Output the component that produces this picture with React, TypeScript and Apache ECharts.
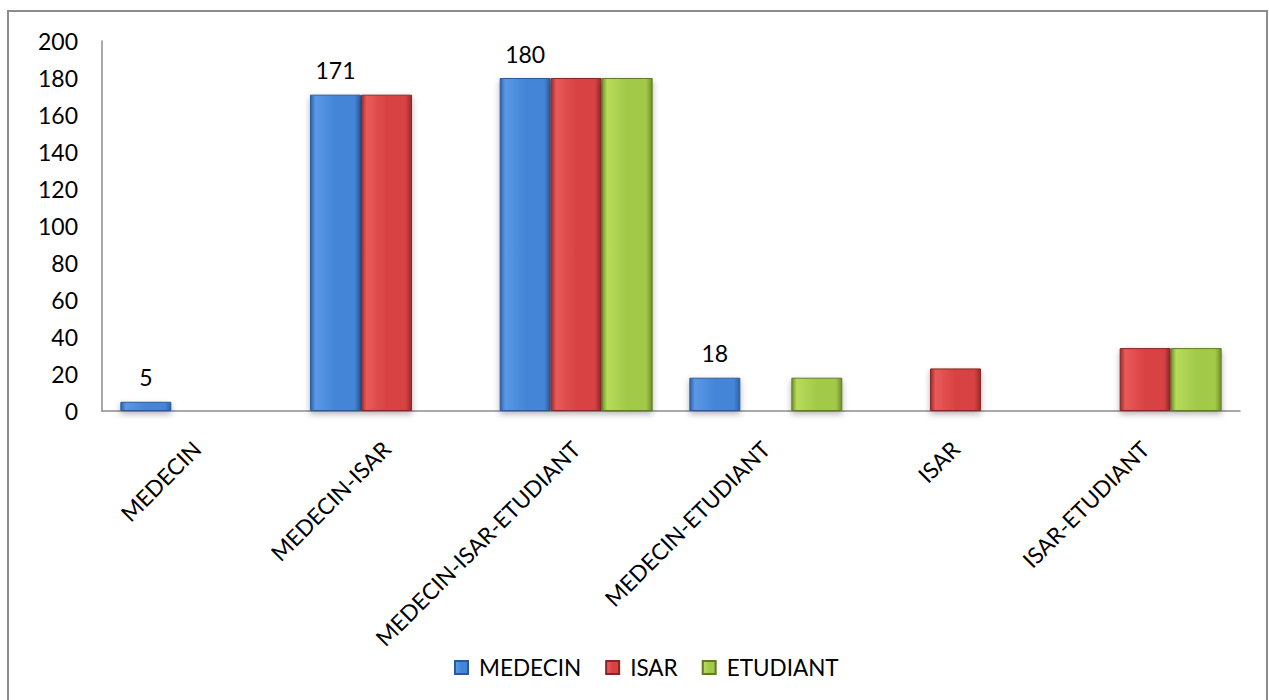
import React, { useEffect, useRef } from "react";
import * as echarts from "echarts";

const categories = [
  "MEDECIN",
  "MEDECIN-ISAR",
  "MEDECIN-ISAR-ETUDIANT",
  "MEDECIN-ETUDIANT",
  "ISAR",
  "ISAR-ETUDIANT",
];
const medecin = [5, 171, 180, 18, 0, 0];
const isar = [0, 171, 180, 0, 23, 34];
const etudiant = [0, 0, 180, 18, 0, 34];
const yTicks = { min: 0, max: 200, interval: 20 };

const FONT = "Lato, 'Open Sans', sans-serif";

function grad(dark: string, light: string, base: string) {
  return new echarts.graphic.LinearGradient(0, 0, 1, 0, [
    { offset: 0, color: dark },
    { offset: 0.1, color: light },
    { offset: 0.5, color: base },
    { offset: 0.88, color: base },
    { offset: 1, color: dark },
  ]);
}

export default function App() {
  const ref = useRef<HTMLDivElement>(null);
  useEffect(() => {
    if (!ref.current) return;
    const chart = echarts.init(ref.current, null, { renderer: "svg" });
    const barStyle = (dark: string, light: string, base: string, border: string) => ({
      color: grad(dark, light, base),
      borderColor: border,
      borderWidth: 1,
      shadowBlur: 6,
      shadowOffsetY: 3,
      shadowColor: "rgba(0,0,0,0.3)",
    });
    chart.setOption({
      animation: false,
      backgroundColor: "#fff",
      textStyle: { fontFamily: FONT },
      graphic: [
        {
          type: "rect",
          shape: { x: 8, y: 11, width: 1259, height: 720 },
          style: { fill: "none", stroke: "#8c8c8c", lineWidth: 2 },
          silent: true,
        },
      ],
      legend: {
        bottom: 16,
        left: 449,
        itemWidth: 13,
        itemHeight: 13,
        itemGap: 24,
        icon: "rect",
        textStyle: {
          fontSize: 22.5,
          color: "#000",
          fontFamily: FONT,
          padding: [0, 0, 0, 6],
        },
        data: ["MEDECIN", "ISAR", "ETUDIANT"],
      },
      grid: { left: 102, right: 29, top: 41, bottom: 289, containLabel: false },
      xAxis: {
        type: "category",
        data: categories,
        axisLine: { lineStyle: { color: "#8c8c8c", width: 1.5 } },
        axisTick: { show: false },
        axisLabel: {
          rotate: 45,
          interval: 0,
          margin: 34,
          fontSize: 22.5,
          color: "#000",
          fontFamily: FONT,
        },
      },
      yAxis: {
        type: "value",
        min: yTicks.min,
        max: yTicks.max,
        interval: yTicks.interval,
        splitLine: { show: false },
        axisLine: { show: true, lineStyle: { color: "#8c8c8c", width: 1.5 } },
        axisTick: { show: false },
        axisLabel: { fontSize: 23, color: "#000", margin: 24, fontFamily: FONT },
      },
      series: [
        {
          name: "MEDECIN",
          type: "bar",
          data: medecin,
          barWidth: 51,
          barGap: "0%",
          itemStyle: barStyle("#2f62a8", "#5b98e6", "#4485d8", "#2a5a9a"),
          label: {
            show: true,
            position: "top",
            distance: 13,
            fontSize: 23,
            color: "#000",
            fontFamily: FONT,
            formatter: (p: any) => (p.value > 0 ? String(p.value) : ""),
          },
        },
        {
          name: "ISAR",
          type: "bar",
          data: isar,
          barWidth: 51,
          barGap: "0%",
          itemStyle: barStyle("#9a2a2a", "#e85a58", "#d84242", "#8a2525"),
        },
        {
          name: "ETUDIANT",
          type: "bar",
          data: etudiant,
          barWidth: 51,
          barGap: "0%",
          itemStyle: barStyle("#6f8f2a", "#b8dc5a", "#a3c94a", "#607d25"),
        },
      ],
    });
    return () => chart.dispose();
  }, []);
  return (
    <div
      ref={ref}
      style={{ position: "fixed", left: 0, top: 0, width: 1269, height: 700 }}
    />
  );
}
